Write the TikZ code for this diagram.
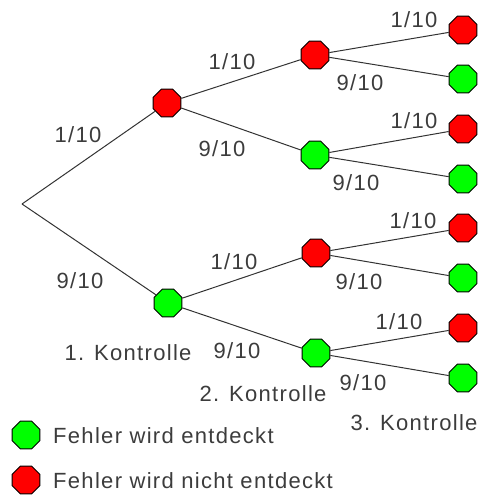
\documentclass[tikz,border=0pt]{standalone}
\usepackage{fontspec}
\setmainfont{Liberation Sans}[LetterSpace=6]
\usetikzlibrary{shapes.geometric}
\definecolor{okgreen}{RGB}{0,255,0}
\definecolor{errred}{RGB}{255,0,0}
\definecolor{txt}{RGB}{60,60,60}
\tikzset{
  oct/.style={regular polygon, regular polygon sides=8, minimum size=30pt,
    inner sep=0pt, draw=black, line width=0.9pt},
  hit/.style={oct, fill=okgreen},
  miss/.style={oct, fill=errred},
  branch/.style={draw=black!80, line width=1pt},
  prob/.style={text=txt, font=\fontsize{22}{24}\selectfont, inner sep=0pt},
}
\begin{document}
\begin{tikzpicture}[x=1pt,y=-1pt]
\useasboundingbox (0,0) rectangle (486,495);
% root
\coordinate (r) at (22,204);
% first check
\node[miss] (a) at (167,103) {};
\node[hit]  (b) at (168,303) {};
% second check
\node[miss] (aa) at (315,55) {};
\node[hit]  (ab) at (315,155) {};
\node[miss] (ba) at (316,253) {};
\node[hit]  (bb) at (316,353) {};
% third check
\node[miss] (aaa) at (463,30) {};
\node[hit]  (aab) at (463,79) {};
\node[miss] (aba) at (463,129) {};
\node[hit]  (abb) at (463,179) {};
\node[miss] (baa) at (463,228) {};
\node[hit]  (bab) at (463,278) {};
\node[miss] (bba) at (463,328) {};
\node[hit]  (bbb) at (463,378) {};
% branches
\foreach \s/\t in {r/a, r/b, a/aa, a/ab, b/ba, b/bb,
  aa/aaa, aa/aab, ab/aba, ab/abb, ba/baa, ba/bab, bb/bba, bb/bbb}
  \draw[branch] (\s) -- (\t);
% probabilities
\node[prob] (p1)  at (78,135)  {1/10};
\node[prob] (p2)  at (80,281)  {9/10};
\node[prob] (p3)  at (232,62)  {1/10};
\node[prob] (p4)  at (222,149) {9/10};
\node[prob] (p5)  at (234,262) {1/10};
\node[prob] (p6)  at (237,351) {9/10};
\node[prob] (p7)  at (414,20)  {1/10};
\node[prob] (p8)  at (360,83)  {9/10};
\node[prob] (p9)  at (414,121) {1/10};
\node[prob] (p10) at (356,183) {9/10};
\node[prob] (p11) at (413,221) {1/10};
\node[prob] (p12) at (359,282) {9/10};
\node[prob] (p13) at (399,322) {1/10};
\node[prob] (p14) at (363,383) {9/10};
% stage captions
\node[prob] (k1) at (128,353) {1. Kontrolle};
\node[prob] (k2) at (263,394) {2. Kontrolle};
\node[prob] (k3) at (414,423) {3. Kontrolle};
% legend
\node[hit]  (lg) at (26,435) {};
\node[miss] (lr) at (26,480) {};
\node[prob, anchor=west] (tg) at (53,436) {Fehler wird entdeckt};
\node[prob, anchor=west] (tr) at (53,481) {Fehler wird nicht entdeckt};
\end{tikzpicture}
\end{document}
